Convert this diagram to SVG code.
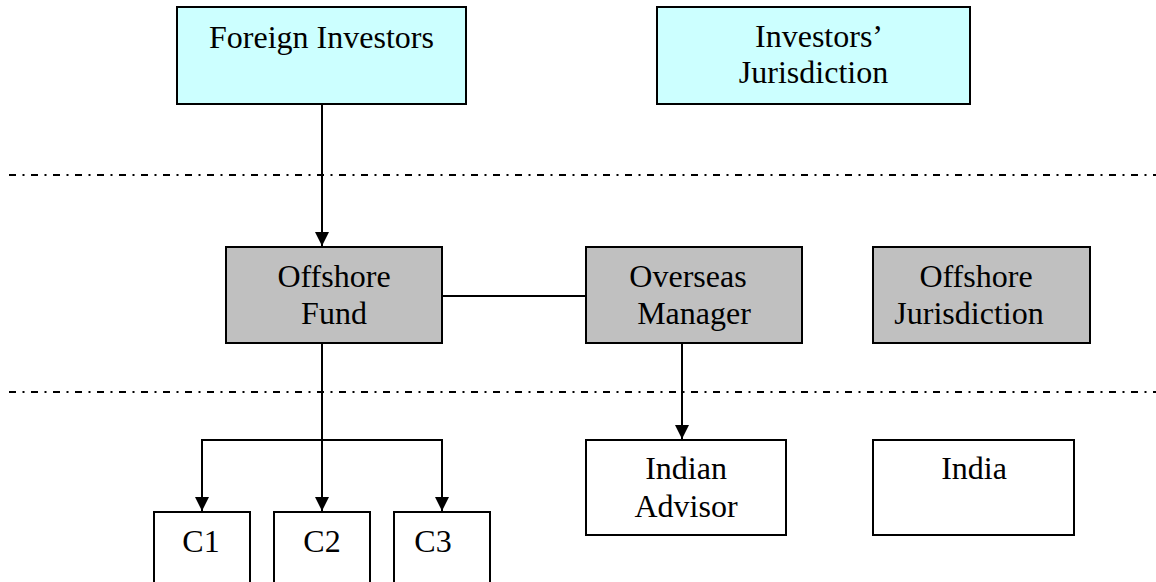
<svg xmlns="http://www.w3.org/2000/svg" width="1156" height="582" viewBox="0 0 1156 582">
<style>
.box{stroke:#000;stroke-width:2}
.cyan{fill:#CCFFFF}
.gray{fill:#C0C0C0}
.white{fill:#FFFFFF}
.t{font-family:"Liberation Serif","Times New Roman",serif;font-size:32px;fill:#000;text-anchor:middle}
.sep{stroke:#000;stroke-width:2;fill:none;stroke-dasharray:7 6.5 2 6.5}
.con{stroke:#000;stroke-width:2;fill:none}
.arr{marker-end:url(#ah)}
</style>
<defs>
<marker id="ah" markerUnits="userSpaceOnUse" markerWidth="14" markerHeight="14" refX="14" refY="7" orient="auto">
<path d="M0,0 L14,7 L0,14 z" fill="#000"/>
</marker>
</defs>
<rect x="0" y="0" width="1156" height="582" fill="#fff"/>
<g id="separators">
<line class="sep" x1="9" y1="175" x2="1156" y2="175"/>
<line class="sep" x1="9" y1="392" x2="1156" y2="392"/>
</g>
<g id="connectors">
<line class="con arr" x1="322" y1="104" x2="322" y2="246"/>
<line class="con" x1="442" y1="296" x2="586" y2="296"/>
<line class="con" x1="322" y1="343" x2="322" y2="440"/>
<polyline class="con" points="202,511 202,440 442,440 442,511"/>
<line class="con arr" x1="202" y1="440" x2="202" y2="511"/>
<line class="con arr" x1="322" y1="440" x2="322" y2="511"/>
<line class="con arr" x1="442" y1="440" x2="442" y2="511"/>
<line class="con arr" x1="682" y1="343" x2="682" y2="439"/>
</g>
<g id="foreign-investors">
<rect class="box cyan" x="177" y="7" width="289" height="97"/>
<text class="t" x="321.5" y="48">Foreign Investors</text>
</g>
<g id="investors-jurisdiction">
<rect class="box cyan" x="657" y="7" width="313" height="97"/>
<text class="t" x="819" y="47">Investors’</text>
<text class="t" x="813.5" y="83">Jurisdiction</text>
</g>
<g id="offshore-fund">
<rect class="box gray" x="226" y="247" width="216" height="96"/>
<text class="t" x="334" y="287">Offshore</text>
<text class="t" x="334" y="324">Fund</text>
</g>
<g id="overseas-manager">
<rect class="box gray" x="586" y="247" width="216" height="96"/>
<text class="t" x="688" y="287">Overseas</text>
<text class="t" x="694" y="324">Manager</text>
</g>
<g id="offshore-jurisdiction">
<rect class="box gray" x="873" y="247" width="217" height="96"/>
<text class="t" x="976" y="287">Offshore</text>
<text class="t" x="969" y="324">Jurisdiction</text>
</g>
<g id="c1">
<rect class="box white" x="154" y="512" width="96" height="90"/>
<text class="t" x="201" y="552">C1</text>
</g>
<g id="c2">
<rect class="box white" x="274" y="512" width="96" height="90"/>
<text class="t" x="322" y="552">C2</text>
</g>
<g id="c3">
<rect class="box white" x="394" y="512" width="96" height="90"/>
<text class="t" x="433" y="552">C3</text>
</g>
<g id="indian-advisor">
<rect class="box white" x="586" y="440" width="200" height="95"/>
<text class="t" x="686" y="479">Indian</text>
<text class="t" x="686" y="517">Advisor</text>
</g>
<g id="india">
<rect class="box white" x="873" y="440" width="201" height="95"/>
<text class="t" x="974" y="479">India</text>
</g>
</svg>
